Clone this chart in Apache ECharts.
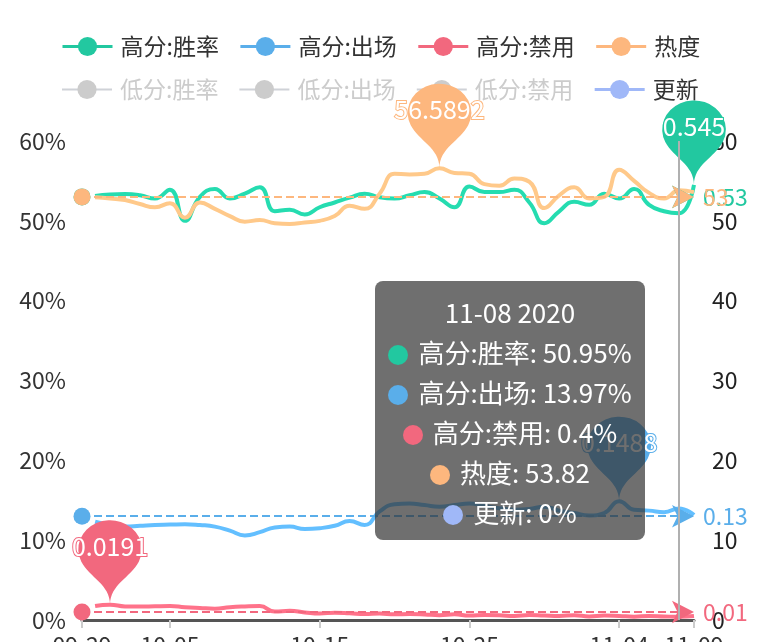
<!DOCTYPE html>
<html>
<head>
<meta charset="utf-8">
<script src="https://cdn.jsdelivr.net/npm/echarts@6/dist/echarts.min.js"></script>
<style>
html,body{margin:0;padding:0;background:#fff;}
#chart{width:770px;height:642px;}
</style>
</head>
<body>
<div id="chart"></div>
<script>
// ---------- data ----------
const dates = [
  '2020-09-30','2020-10-01','2020-10-02','2020-10-03','2020-10-04','2020-10-05','2020-10-06','2020-10-07','2020-10-08','2020-10-09',
  '2020-10-10','2020-10-11','2020-10-12','2020-10-13','2020-10-14','2020-10-15','2020-10-16','2020-10-17','2020-10-18','2020-10-19',
  '2020-10-20','2020-10-21','2020-10-22','2020-10-23','2020-10-24','2020-10-25','2020-10-26','2020-10-27','2020-10-28','2020-10-29',
  '2020-10-30','2020-10-31','2020-11-01','2020-11-02','2020-11-03','2020-11-04','2020-11-05','2020-11-06','2020-11-07','2020-11-08',
  '2020-11-09'
];
const axisStart = '2020-09-29T03:00';

const winHigh = [
  0.531,0.533,0.5335,0.532,0.528,0.539,0.500,0.530,0.540,0.528,
  0.534,0.542,0.512,0.514,0.508,0.517,0.523,0.529,0.534,0.5295,
  0.528,0.532,0.536,0.528,0.517,0.543,0.536,0.536,0.539,0.523,
  0.497,0.512,0.524,0.520,0.534,0.528,0.540,0.520,0.512,0.5095,
  0.545
];
const pickHigh = [
  0.123,0.119,0.117,0.118,0.119,0.1195,0.120,0.119,0.117,0.112,
  0.106,0.110,0.116,0.117,0.114,0.115,0.118,0.124,0.119,0.136,
  0.145,0.146,0.144,0.142,0.144,0.146,0.143,0.140,0.138,0.139,
  0.142,0.137,0.134,0.131,0.134,0.1488,0.138,0.137,0.135,0.1397,
  0.1315
];
const banHigh = [
  0.0175,0.0191,0.0170,0.0168,0.0172,0.0175,0.0160,0.0150,0.0142,0.0160,
  0.0170,0.0175,0.0105,0.0115,0.0095,0.0080,0.0092,0.0085,0.0075,0.0080,
  0.0072,0.0075,0.0070,0.0060,0.0072,0.0055,0.0062,0.0060,0.0050,0.0062,
  0.0055,0.0050,0.0060,0.0045,0.0055,0.0050,0.0042,0.0050,0.0045,0.0040,
  0.0050
];
const heat = [
  52.96,52.8,52.6,52.1,51.7,52.2,50.4,52.3,51.5,50.6,
  49.9,50.1,49.7,49.6,49.8,50.0,50.6,51.9,51.5,53.4,
  55.9,55.8,55.9,56.5892,56.0,55.9,54.6,54.4,55.3,54.9,
  51.6,53.2,54.2,52.8,53.0,56.4,55.0,53.5,52.8,53.82,
  53.6
];
const updates = [
  0,0,0,0,0,0,0,0,0,0,
  0,0,0,0,0,0,0,0,0,0,
  0,0,0,0,0,0,0,0,0,0,
  0,0,0,0,0,0,0,0,0,0,
  0
];
const winLow = [];
const pickLow = [];
const banLow = [];

const seriesNames = ['高分:胜率','高分:出场','高分:禁用','热度','低分:胜率','低分:出场','低分:禁用','更新'];
const colors = ['#22c8a0','#5aaeea','#f2687e','#fdb77e','#8fd3c0','#9cc8ee','#f4a3b0','#a0b8f8'];
const tipDate = '2020-11-08';

// ---------- helpers ----------
const DAY = 86400000;
function toDay(s) {
  const p = s.split('T');
  const d = p[0].split('-').map(Number);
  let h = 0, m = 0;
  if (p[1]) { const t = p[1].split(':').map(Number); h = t[0]; m = t[1]; }
  return Date.UTC(d[0], d[1] - 1, d[2], h, m) / DAY;
}
function pad(n) { return (n < 10 ? '0' : '') + n; }
function fmtMD(v) { const dt = new Date(Math.round(v * DAY)); return pad(dt.getUTCMonth() + 1) + '-' + pad(dt.getUTCDate()); }
function pairs(vals) { return vals.map((v, i) => [toDay(dates[i]), v]); }
const isPct = name => name !== '热度';

const FONT = 'Noto Sans CJK SC';

function mkSeries(idx, vals, yAxisIndex, withMarks, avgPrecision) {
  const c = colors[idx];
  const s = {
    name: seriesNames[idx],
    type: 'line',
    yAxisIndex: yAxisIndex,
    smooth: true,
    symbol: 'none',
    data: pairs(vals),
    itemStyle: { color: c },
    lineStyle: { width: 4, color: c },
    z: 3
  };
  if (withMarks) {
    s.markPoint = {
      symbol: 'pin',
      symbolSize: [106, 97],
      data: [{ type: 'max' }],
      itemStyle: { color: c },
      label: { color: '#fff', fontSize: 25, fontFamily: FONT, textBorderColor: c, textBorderWidth: 2, offset: [0, -8] }
    };
    s.markLine = {
      silent: true,
      symbol: ['circle', 'arrow'],
      symbolSize: [17, 22],
      precision: avgPrecision,
      lineStyle: { type: 'dashed', width: 2, color: c },
      label: { position: 'end', color: c, fontSize: 23, fontFamily: FONT, distance: 9 },
      data: [{ type: 'average' }]
    };
  }
  return s;
}

const series = [
  mkSeries(0, winHigh, 0, true, 2),
  mkSeries(1, pickHigh, 0, true, 2),
  mkSeries(2, banHigh, 0, true, 2),
  mkSeries(3, heat, 1, true, 0),
  mkSeries(4, winLow, 0, false),
  mkSeries(5, pickLow, 0, false),
  mkSeries(6, banLow, 0, false),
  mkSeries(7, updates, 0, false)
];
series[7].lineStyle.width = 2;
series[7].z = 1;

const legendCommon = {
  left: 56,
  padding: [5, 5, 5, 5],
  orient: 'horizontal',
  itemWidth: 50,
  itemHeight: 24,
  itemGap: 20,
  inactiveColor: '#cccccc',
  lineStyle: { width: 3 },
  textStyle: { fontSize: 23, color: '#333', fontFamily: FONT, padding: [0, 0, 0, 3] }
};

const chart = echarts.init(document.getElementById('chart'));
chart.setOption({
  animation: false,
  textStyle: { fontFamily: FONT },
  color: colors,
  legend: [
    Object.assign({}, legendCommon, { top: 30, data: seriesNames.slice(0, 4) }),
    Object.assign({}, legendCommon, {
      top: 73,
      data: seriesNames.slice(4, 8),
      selected: { '低分:胜率': false, '低分:出场': false, '低分:禁用': false, '更新': true }
    })
  ],
  grid: { left: 82, right: 76, top: 141, bottom: 22, containLabel: false, outerBoundsMode: 'none' },
  tooltip: {
    trigger: 'axis',
    alwaysShowContent: true,
    transitionDuration: 0,
    position: [375, 281],
    backgroundColor: 'rgba(50,50,50,0.7)',
    borderWidth: 0,
    padding: [11, 4],
    extraCssText: 'width:270px;height:259px;box-sizing:border-box;border-radius:8px;box-shadow:none;',
    textStyle: { color: '#fff', fontSize: 26, fontFamily: FONT },
    axisPointer: { type: 'line', lineStyle: { color: '#b0b0b0', width: 2, type: 'solid' } },
    formatter: function (params) {
      const dt = new Date(Math.round(params[0].value[0] * DAY));
      let html = '<div style="text-align:center;line-height:40px;font-size:26px;color:#fff;white-space:nowrap;">' +
        pad(dt.getUTCMonth() + 1) + '-' + pad(dt.getUTCDate()) + ' ' + dt.getUTCFullYear() + '</div>';
      params.forEach(p => {
        const v = p.value[1];
        const txt = isPct(p.seriesName) ? (Math.round(v * 10000) / 100) + '%' : v;
        html += '<div style="text-align:center;line-height:40px;font-size:26px;color:#fff;white-space:nowrap;">' +
          '<span style="display:inline-block;width:20px;height:20px;border-radius:10px;background:' + p.color +
          ';margin-right:10px;vertical-align:-2px;"></span>' + p.seriesName + ': ' + txt + '</div>';
      });
      return html;
    }
  },
  xAxis: {
    type: 'value',
    min: toDay(axisStart),
    max: 'dataMax',
    splitNumber: 5,
    splitLine: { show: false },
    axisLine: { show: true, lineStyle: { color: '#555', width: 3 } },
    axisTick: { show: true, length: 8, lineStyle: { color: '#cccccc', width: 2 } },
    axisLabel: { fontSize: 23, color: '#333', margin: 14, formatter: fmtMD, fontFamily: FONT },
    z: 2
  },
  yAxis: [
    {
      type: 'value', min: 0, max: 0.6, interval: 0.1,
      splitLine: { show: false }, axisLine: { show: false }, axisTick: { show: false },
      axisLabel: { fontSize: 23, color: '#333', margin: 16, fontFamily: FONT, formatter: v => Math.round(v * 100) + '%' }
    },
    {
      type: 'value', min: 0, max: 60, interval: 10,
      splitLine: { show: false }, axisLine: { show: false }, axisTick: { show: false },
      axisLabel: { fontSize: 23, color: '#222', margin: 18, fontFamily: FONT }
    }
  ],
  series: series
});

const tipIndex = dates.indexOf(tipDate);
chart.dispatchAction({ type: 'showTip', seriesIndex: 0, dataIndex: tipIndex });
</script>
</body>
</html>
